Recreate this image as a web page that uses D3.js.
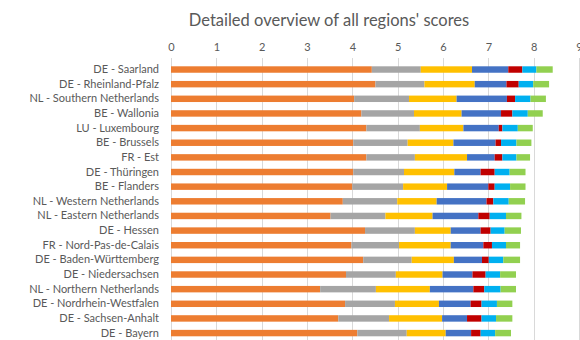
<!DOCTYPE html>
<html>
<head>
<meta charset="utf-8">
<script src="https://cdn.jsdelivr.net/npm/d3@7"></script>
<style>
  html, body { margin: 0; padding: 0; background: #ffffff; }
  svg { display: block; }
  text { font-family: Lato, "Open Sans", sans-serif; fill: #595959; }
</style>
</head>
<body>
<svg id="chart" width="580" height="340"></svg>
<script>
const regions = [
  "DE - Saarland", "DE - Rheinland-Pfalz", "NL - Southern Netherlands", "BE - Wallonia",
  "LU - Luxembourg", "BE - Brussels", "FR - Est", "DE - Thüringen", "BE - Flanders",
  "NL - Western Netherlands", "NL - Eastern Netherlands", "DE - Hessen",
  "FR - Nord-Pas-de-Calais", "DE - Baden-Württemberg", "DE - Niedersachsen",
  "NL - Northern Netherlands", "DE - Nordrhein-Westfalen", "DE - Sachsen-Anhalt", "DE - Bayern"
];
const seriesNames = ["s1", "s2", "s3", "s4", "s5", "s6", "s7"];
const s1 = [4.43, 4.51, 4.04, 4.20, 4.31, 4.02, 4.31, 4.02, 4.00, 3.79, 3.52, 4.28, 3.98, 4.24, 3.86, 3.29, 3.84, 3.69, 4.11];
const s2 = [1.08, 1.08, 1.21, 1.16, 1.18, 1.20, 1.07, 1.12, 1.12, 1.20, 1.21, 1.10, 1.05, 1.07, 1.10, 1.23, 1.10, 1.12, 1.09];
const s3 = [1.13, 1.11, 1.05, 1.05, 0.96, 1.01, 1.15, 1.11, 0.97, 0.87, 1.04, 0.79, 1.14, 0.93, 1.03, 1.19, 0.97, 1.17, 0.86];
const s4 = [0.80, 0.70, 1.11, 0.87, 0.78, 0.93, 0.61, 0.58, 0.91, 1.10, 1.01, 0.66, 0.72, 0.62, 0.66, 0.96, 0.70, 0.55, 0.56];
const s5 = [0.31, 0.27, 0.18, 0.25, 0.08, 0.12, 0.17, 0.31, 0.14, 0.15, 0.25, 0.22, 0.19, 0.15, 0.29, 0.24, 0.24, 0.32, 0.21];
const s6 = [0.31, 0.32, 0.34, 0.34, 0.34, 0.34, 0.31, 0.33, 0.34, 0.34, 0.36, 0.31, 0.31, 0.32, 0.32, 0.36, 0.34, 0.32, 0.32];
const s7 = [0.36, 0.35, 0.34, 0.33, 0.33, 0.33, 0.30, 0.35, 0.34, 0.36, 0.34, 0.36, 0.31, 0.37, 0.35, 0.34, 0.34, 0.36, 0.35];
const tickValues = [0, 1, 2, 3, 4, 5, 6, 7, 8, 9];
const colors = ["#ED7D31", "#A5A5A5", "#FFC000", "#4472C4", "#C00000", "#00B0F0", "#92D050"];
const title = "Detailed overview of all regions' scores";

const allSeries = [s1, s2, s3, s4, s5, s6, s7];
const rows = regions.map((r, i) => {
  const o = { region: r };
  seriesNames.forEach((k, j) => { o[k] = allSeries[j][i]; });
  return o;
});

const svg = d3.select("#chart");
const x = d3.scaleLinear().domain([0, 9]).range([171, 579]);
const y = d3.scaleBand().domain(regions).range([62.2, 340.4]).paddingInner(0.56).paddingOuter(0.28);

svg.append("text")
  .attr("x", 329).attr("y", 26)
  .attr("text-anchor", "middle")
  .style("font-size", "16.5px")
  .text(title);

// gridlines
svg.append("g").selectAll("line").data(tickValues).join("line")
  .attr("x1", d => Math.round(x(d)) + 0.5).attr("x2", d => Math.round(x(d)) + 0.5)
  .attr("y1", 58).attr("y2", 340)
  .attr("stroke", "#D9D9D9").attr("stroke-width", 1);

// top axis labels
const axis = d3.axisTop(x).tickValues(tickValues).tickSize(0).tickPadding(0).tickFormat(d3.format("d"));
const ag = svg.append("g").attr("transform", "translate(0,51)").call(axis);
ag.select(".domain").remove();
ag.selectAll("text").style("font-size", "11px").style("font-family", "Lato, sans-serif").attr("fill", "#595959");

// category labels
const yAxis = d3.axisLeft(y).tickSize(0).tickPadding(0);
const yg = svg.append("g").attr("transform", "translate(159,0)").call(yAxis);
yg.select(".domain").remove();
yg.selectAll("text").style("font-size", "11px").style("font-family", "Lato, sans-serif").attr("fill", "#595959");

const stack = d3.stack().keys(seriesNames)(rows);
svg.append("g").selectAll("g").data(stack).join("g")
  .attr("fill", (d, i) => colors[i])
  .selectAll("rect").data(d => d).join("rect")
  .attr("x", d => x(d[0]))
  .attr("width", d => x(d[1]) - x(d[0]))
  .attr("y", d => y(d.data.region))
  .attr("height", y.bandwidth());
</script>
</body>
</html>
